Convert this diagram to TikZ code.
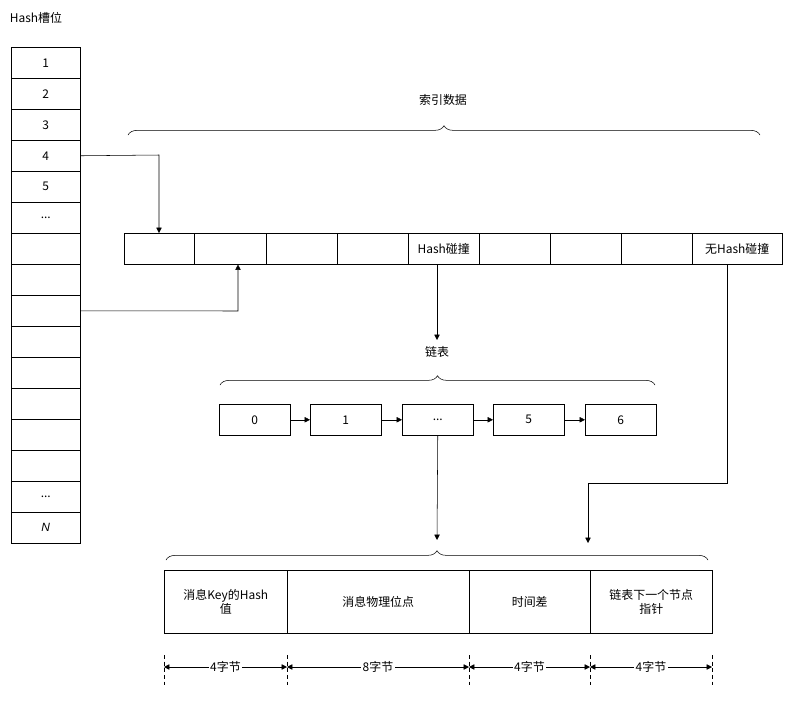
\documentclass[tikz,border=0pt]{standalone}
\usepackage{fontspec}
\setmainfont{Liberation Sans}
\newfontfamily\cjk{Noto Sans CJK SC}
\usetikzlibrary{arrows.meta,decorations.pathreplacing}
\newcommand\ellip{...}
\begin{document}
\begin{tikzpicture}[x=0.02646cm,y=-0.02646cm,font=\cjk\fontsize{9}{11}\selectfont,
  cell/.style={draw,minimum width=(#1)*0.02646cm,minimum height=31*0.02646cm,inner sep=0pt,anchor=north west},
  link/.style={-{Triangle[length=4pt,width=4pt]}},
  brc/.style={decorate,decoration={brace,amplitude=7pt}},
  dim/.style={{Triangle[length=4pt,width=4pt]}-{Triangle[length=4pt,width=4pt]}}]
  \useasboundingbox (0,0) rectangle (794,702);
  \node at (36,18) {Hash槽位};
  % hash slots
  \foreach \t [count=\i from 0] in {1,2,3,4,5,\ellip,,,,,,,,,\ellip,{\rmfamily\itshape N}}
    \node[cell=69] (s\i) at (11,47+31*\i) {\t};
  % index row
  \foreach \a/\b/\t [count=\i from 0] in {124/194/,194/266/,266/337/,337/408/,408/479/Hash碰撞,479/550/,550/621/,621/692/,692/782/无Hash碰撞}
    \node[cell=\b-\a] (r\i) at (\a,233) {\t};
  \draw[brc] (128,135) -- (760,135);
  \node at (443,100) {索引数据};
  \coordinate (c1) at (159,155);
  \draw[link] (s3.east) -- (c1) -- (c1 |- r0.north);
  \coordinate (c2) at (238,311);
  \draw[link] (s8.east) -- (c2) -- (c2 |- r1.south);
  % chain
  \foreach \x/\t [count=\i from 0] in {219/0,310/1,402/\ellip,493/5,585/6}
    \node[cell=71] (l\i) at (\x,404) {\t};
  \foreach \i [remember=\i as \j (initially 0)] in {1,2,3,4}
    \draw[link] (l\j) -- (l\i);
  \draw[link] (437,265) -- (437,340);
  \node at (437,352) {链表};
  \draw[brc] (220,385) -- (655,385);
  % entry
  \draw[brc] (166,560) -- (708,560);
  \draw[link] (l2.south) -- (437,540);
  \coordinate (c3) at (727,483);
  \coordinate (c4) at (588,483);
  \draw[link] (c3 |- r8.south) -- (c3) -- (c4) -- (588,543);
  \foreach \a/\b/\t [count=\i from 0] in {164/287/{消息Key的Hash\\值},287/469/消息物理位点,469/590/时间差,590/712/{链表下一个节点\\指针}}
    \node[cell=\b-\a,minimum height=63*0.02646cm,align=center] (e\i) at (\a,570) {\t};
  \foreach \x in {164,287,469,590,712}
    \draw[densely dashed] (\x,655) -- (\x,685);
  \foreach \a/\b/\t in {164/287/4,287/469/8,469/590/4,590/712/4}
    \draw[dim] (\a,667) -- node[fill=white,inner sep=1pt] {\t 字节} (\b,667);
\end{tikzpicture}
\end{document}
